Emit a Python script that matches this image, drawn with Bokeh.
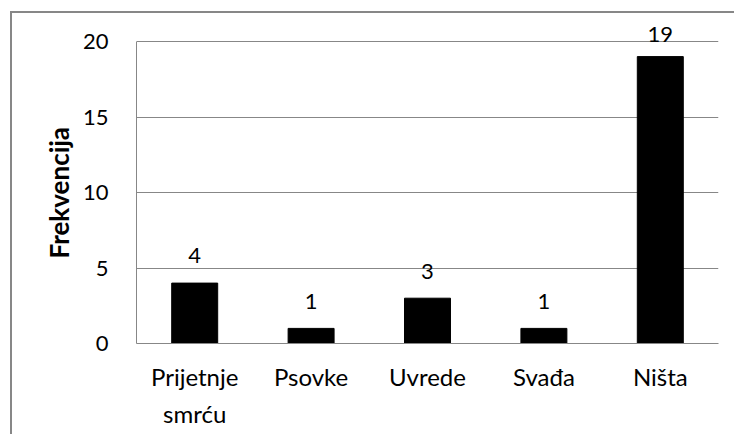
from bokeh.plotting import figure
from bokeh.models import ColumnDataSource, LabelSet, Range1d, FixedTicker, Title
from bokeh.core.properties import value
from bokeh.embed import file_html
from bokeh.resources import INLINE

categories = ["Prijetnje\nsmrću", "Psovke", "Uvrede", "Svađa", "Ništa"]
counts = [4, 1, 3, 1, 19]
label_offsets = [20, 19, 19, 19, 15]
y_ticks = [0, 5, 10, 15, 20]
y_title = "Frekvencija"

GRAY = "#878787"
FONT = "Lato"

W, H = 724, 423
FRAME_TOP, FRAME_BOTTOM, GRID20 = 15, 343, 41
y_end = y_ticks[-1] * (FRAME_BOTTOM - FRAME_TOP) / (FRAME_BOTTOM - GRID20)

p = figure(x_range=categories, y_range=Range1d(0, y_end), width=W, height=H,
           output_backend="svg", toolbar_location=None,
           min_border_left=124, min_border_right=18, min_border_top=2, min_border_bottom=93)
p.margin = (11, 0, 0, 10)
p.styles = {"border-left": f"2px solid {GRAY}", "border-top": f"2px solid {GRAY}"}
p.outline_line_color = None
p.background_fill_color = "white"
p.border_fill_color = "white"

src = ColumnDataSource(dict(cat=categories, count=counts, txt=[str(c) for c in counts],
                            off=label_offsets))

p.vbar(x="cat", top="count", width=0.395, source=src, fill_color="black", line_color="black")

# y axis
p.yaxis.ticker = FixedTicker(ticks=y_ticks)
p.yaxis.bounds = (y_ticks[0], y_ticks[-1])
p.yaxis.axis_line_color = GRAY
p.yaxis.major_tick_line_color = None
p.yaxis.minor_tick_line_color = None
p.yaxis.major_label_standoff = 22
p.yaxis.major_label_text_font = FONT
p.yaxis.major_label_text_font_size = "22px"
p.yaxis.major_label_text_color = "black"

p.add_layout(Title(text=y_title, align="left", offset=85, text_font=FONT,
                   text_font_size="26px", text_font_style="bold", text_color="black"), "left")

# x axis
p.xaxis.axis_line_color = GRAY
p.xaxis.major_tick_line_color = None
p.xaxis.minor_tick_line_color = None
p.xaxis.major_label_standoff = 12
p.xaxis.major_label_text_font = FONT
p.xaxis.major_label_text_font_size = "24px"
p.xaxis.major_label_text_line_height = 1.3
p.xaxis.major_label_text_color = "black"

p.xgrid.grid_line_color = None
p.ygrid.grid_line_color = GRAY
p.ygrid.ticker = FixedTicker(ticks=y_ticks)

p.add_layout(LabelSet(x="cat", y="count", text="txt", source=src, y_offset="off",
                      text_align="center", text_baseline="alphabetic",
                      text_font=value(FONT), text_font_size="22px", text_color="black"))

open("out.html", "w").write(file_html(p, INLINE))
